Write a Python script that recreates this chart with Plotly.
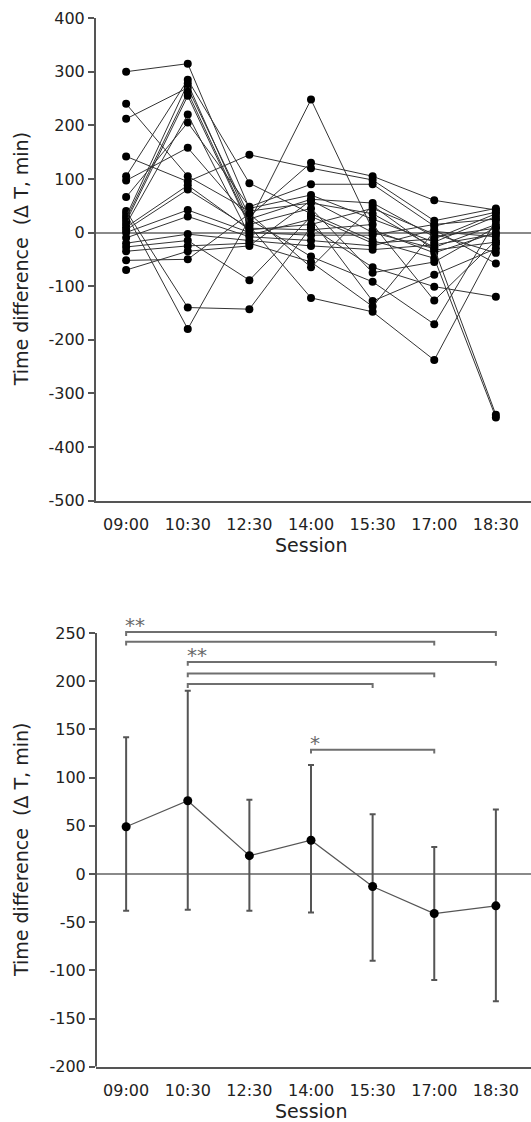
import plotly.graph_objects as go

# ---------------- data ----------------
sessions = ["09:00", "10:30", "12:30", "14:00", "15:30", "17:00", "18:30"]

# individual subjects (top panel), values per session (ΔT, min)
subjects = [
    [300, 315, 45, 70, 25, -18, 30],
    [240, 105, 40, 55, 35, -28, 15],
    [212, 270, 30, 130, 105, 60, 42],
    [142, 95, 145, 120, 98, 22, 45],
    [105, 285, 92, 35, -15, -48, -345],
    [97, 158, 25, 62, 55, -8, 8],
    [66, 205, 48, 90, 90, 12, 38],
    [40, -140, -143, 10, -65, -101, -120],
    [35, -180, 25, -45, -92, -171, 22],
    [30, 278, 20, 248, 5, -38, 0],
    [25, 262, 15, 45, -75, -55, 10],
    [20, 255, 12, -122, -148, -238, -22],
    [15, 220, -5, 25, -128, -79, -30],
    [10, 88, 5, 15, 45, -3, -38],
    [5, 80, 8, 5, 15, -127, -15],
    [0, 42, 0, -5, -5, 15, 25],
    [-10, 30, -8, -15, -25, 5, -58],
    [-20, -3, -15, -25, -32, -23, -3],
    [-27, -15, -89, 30, -20, -12, 35],
    [-35, -25, -20, -55, -138, 2, -8],
    [-52, -50, 35, -65, 50, -33, -18],
    [-70, -35, -25, 60, 0, -30, -340],
]

# group summary (bottom panel)
mean_vals = [49, 76, 19, 35, -13, -41, -33]
upper_vals = [142, 190, 77, 113, 62, 28, 67]
lower_vals = [-38, -37, -38, -40, -90, -110, -132]

# significance brackets
bracket_from = ["09:00", "09:00", "10:30", "10:30", "10:30", "14:00"]
bracket_to = ["18:30", "17:00", "18:30", "17:00", "15:30", "17:00"]
bracket_y = [251, 241, 220, 208, 197, 129]
bracket_label = ["**", "", "**", "", "", "*"]

top_ticks = [-500, -400, -300, -200, -100, 0, 100, 200, 300, 400]
bot_ticks = [-200, -150, -100, -50, 0, 50, 100, 150, 200, 250]

# ---------------- style ----------------
FONT = "DejaVu Sans"
TXT = "#222222"
AXC = "#555555"
W, H = 531, 1122
ML = 96

fig = go.Figure()

# top panel: spaghetti
for s in subjects:
    fig.add_trace(go.Scatter(
        x=sessions, y=s, mode="lines+markers", xaxis="x", yaxis="y",
        line=dict(color="#333333", width=1),
        marker=dict(color="black", size=8),
        showlegend=False, hoverinfo="skip"))

# bottom panel: mean ± error
err_plus = [u - m for u, m in zip(upper_vals, mean_vals)]
err_minus = [m - l for m, l in zip(mean_vals, lower_vals)]
fig.add_trace(go.Scatter(
    x=sessions, y=mean_vals, mode="lines+markers", xaxis="x2", yaxis="y2",
    line=dict(color="#555555", width=1.2),
    marker=dict(color="black", size=9),
    error_y=dict(type="data", symmetric=False, array=err_plus,
                 arrayminus=err_minus, color="#555555", thickness=2, width=3),
    showlegend=False, hoverinfo="skip"))

# brackets
for a, b, yv in zip(bracket_from, bracket_to, bracket_y):
    fig.add_trace(go.Scatter(
        x=[a, a, b, b], y=[yv - 4, yv, yv, yv - 4], mode="lines",
        xaxis="x2", yaxis="y2", line=dict(color="#6f6f6f", width=2),
        showlegend=False, hoverinfo="skip"))

annotations = []
for a, yv, lab in zip(bracket_from, bracket_y, bracket_label):
    if lab:
        annotations.append(dict(
            x=a, y=yv, xref="x2", yref="y2", text=lab, showarrow=False,
            xanchor="left", yanchor="bottom", xshift=-3, yshift=-7,
            font=dict(family=FONT, size=20, color="#6a6a6a")))

ytitle = "Time difference\u00a0\u00a0(\u0394\u00a0T,\u00a0min)"
top_dom = [1 - 500.5 / H, 1 - 18.1 / H]
bot_dom = [1 - 1066.8 / H, 1 - 628.2 / H]
for yc in [(top_dom[0] + top_dom[1]) / 2, 1 - 850 / H]:
    annotations.append(dict(
        x=(21 - ML) / (W - ML), y=yc, xref="paper", yref="paper",
        text=ytitle, textangle=-90, showarrow=False,
        xanchor="center", yanchor="middle",
        font=dict(family=FONT, size=19, color=TXT)))
for yc in [1 - 545 / H, 1 - 1111 / H]:
    annotations.append(dict(
        x=(311.5 - ML) / (W - ML), y=yc, xref="paper", yref="paper",
        text="Session", showarrow=False, xanchor="center", yanchor="middle",
        font=dict(family=FONT, size=19, color=TXT)))

xcommon = dict(
    type="category", categoryorder="array", categoryarray=sessions,
    range=[-0.489, 6.57], showline=True, linecolor=AXC, linewidth=2,
    ticks="outside", ticklen=8, tickcolor="rgba(0,0,0,0)",
    showgrid=False, zeroline=False, automargin=False,
    tickfont=dict(family=FONT, size=16, color=TXT))

ycommon = dict(
    showgrid=False, zeroline=True, zerolinecolor="#8a8a8a", zerolinewidth=1.5,
    ticks="outside", ticklen=6, tickwidth=1.5, tickcolor=AXC,
    automargin=False,
    tickfont=dict(family=FONT, size=16, color=TXT))

fig.update_layout(
    width=W, height=H, autosize=False,
    margin=dict(l=ML, r=0, t=0, b=0, pad=0),
    paper_bgcolor="white", plot_bgcolor="white",
    xaxis=dict(xcommon, domain=[0, 1], anchor="y"),
    yaxis=dict(ycommon, domain=top_dom, anchor="x", range=[-500, 400],
               tickvals=top_ticks, ticktext=[str(t) for t in top_ticks],
               showline=True, linecolor=AXC, linewidth=2),
    xaxis2=dict(xcommon, domain=[0, 1], anchor="y2"),
    yaxis2=dict(ycommon, domain=bot_dom, anchor="x2", range=[-200, 255],
                tickvals=bot_ticks, ticktext=[str(t) for t in bot_ticks],
                showline=False),
    annotations=annotations,
    shapes=[dict(type="line", xref="x2 domain", yref="y2", x0=0, x1=0,
                 y0=bot_ticks[0], y1=bot_ticks[-1],
                 line=dict(color=AXC, width=2))],
)

fig.write_html(
    "out.html",
    config={"displayModeBar": False},
    post_script="document.body.style.margin='0';document.body.style.overflow='hidden';",
)
